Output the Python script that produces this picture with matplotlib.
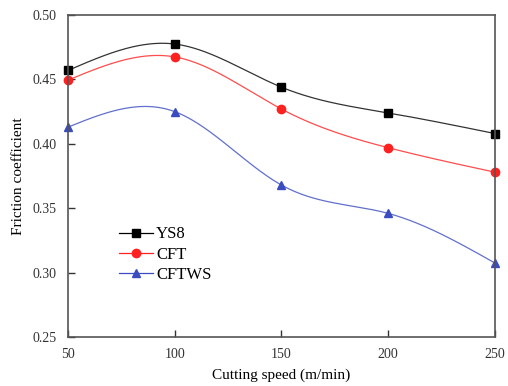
import matplotlib
matplotlib.use('Agg')
import matplotlib.pyplot as plt
import numpy as np

speed = [50, 100, 150, 200, 250]
ys8 = [0.457, 0.4775, 0.444, 0.424, 0.408]
cft = [0.4495, 0.4675, 0.427, 0.397, 0.378]
cftws = [0.413, 0.425, 0.368, 0.346, 0.3075]


def natural_spline(x, y, xs):
    # natural cubic spline, plain numpy
    x = np.asarray(x, float)
    y = np.asarray(y, float)
    n = len(x)
    h = np.diff(x)
    A = np.zeros((n, n))
    b = np.zeros(n)
    A[0, 0] = 1
    A[-1, -1] = 1
    for i in range(1, n - 1):
        A[i, i - 1] = h[i - 1]
        A[i, i] = 2 * (h[i - 1] + h[i])
        A[i, i + 1] = h[i]
        b[i] = 3 * ((y[i + 1] - y[i]) / h[i] - (y[i] - y[i - 1]) / h[i - 1])
    c = np.linalg.solve(A, b)
    out = []
    for v in xs:
        i = min(np.searchsorted(x, v, side='right') - 1, n - 2)
        i = max(i, 0)
        dx = v - x[i]
        bi = (y[i + 1] - y[i]) / h[i] - h[i] * (2 * c[i] + c[i + 1]) / 3
        di = (c[i + 1] - c[i]) / (3 * h[i])
        out.append(y[i] + bi * dx + c[i] * dx ** 2 + di * dx ** 3)
    return np.array(out)


plt.rcParams['font.family'] = ['Liberation Serif', 'DejaVu Serif']

fig = plt.figure(figsize=(5.08, 3.86), dpi=100)
ax = fig.add_axes([0.134, 0.127, 0.840, 0.834])

xs = np.linspace(50, 250, 300)
series = [(ys8, 'YS8', 'black', 's'), (cft, 'CFT', '#ff2020', 'o'), (cftws, 'CFTWS', '#3a4cc0', '^')]
for vals, name, col, mk in series:
    ax.plot(xs, natural_spline(speed, vals, xs), '-', color=col, lw=0.9, alpha=0.8)
    ax.plot(speed, vals, mk, color=col, markersize=6, clip_on=False)
    # legend proxy
    ax.plot([], [], '-', marker=mk, color=col, markersize=6, lw=0.9, label=name)

ax.set_xlim(50, 250)
ax.set_ylim(0.25, 0.50)
ax.set_xticks(speed)
ax.set_yticks([0.25, 0.30, 0.35, 0.40, 0.45, 0.50])
ax.set_yticklabels(['0.25', '0.30', '0.35', '0.40', '0.45', '0.50'])
ax.tick_params(direction='in', labelsize=10, length=5, width=1, colors='#333333', pad=8)
for s in ax.spines.values():
    s.set_color('#555555')
    s.set_linewidth(1.2)

ax.set_xlabel('Cutting speed (m/min)', fontsize=11, labelpad=5)
ax.set_ylabel('Friction coefficient', fontsize=11, labelpad=6)

h, l = ax.get_legend_handles_labels()
ax.legend(h[-3:], l[-3:], loc='upper left', bbox_to_anchor=(0.085, 0.39), frameon=False,
          fontsize=12, handlelength=2.0, handletextpad=0.2, labelspacing=0.25)

fig.savefig('out.png', dpi=100)
